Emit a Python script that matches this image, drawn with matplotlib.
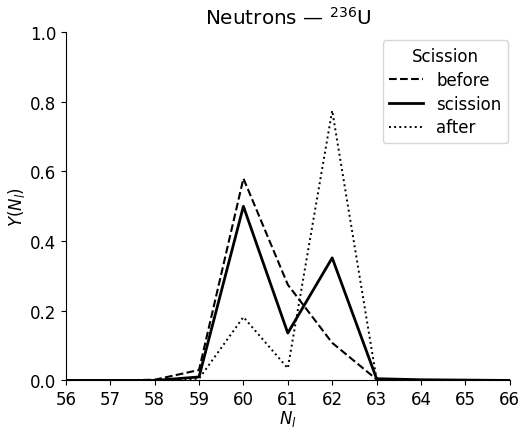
import matplotlib
matplotlib.use("Agg")
from matplotlib import pyplot as plt

# neutron number of the light fragment
n_light = [56, 57, 58, 59, 60, 61, 62, 63, 64, 65, 66]

# yields at each stage
y_before = [0.0, 0.0, 0.002, 0.03, 0.58, 0.275, 0.108, 0.003, 0.001, 0.0, 0.0]
y_scission = [0.0, 0.0, 0.0, 0.01, 0.50, 0.136, 0.352, 0.005, 0.002, 0.001, 0.0]
y_after = [0.0, 0.0, 0.0, 0.005, 0.182, 0.035, 0.775, 0.003, 0.0, 0.0, 0.0]

plt.rcParams['font.size'] = 12

fig, ax = plt.subplots(figsize=(5.31, 4.31), dpi=100)
fig.subplots_adjust(left=0.124, right=0.960, bottom=0.115, top=0.923)

ax.plot(n_light, y_before, color='black', linestyle='--', linewidth=1.5, label='before')
ax.plot(n_light, y_scission, color='black', linestyle='-', linewidth=2, label='scission')
ax.plot(n_light, y_after, color='black', linestyle=':', linewidth=1.4, label='after')

ax.set_xlim(56, 66)
ax.set_ylim(0, 1)
ax.set_xticks(n_light)
ax.spines['top'].set_visible(False)
ax.spines['right'].set_visible(False)

ax.set_xlabel('$N_l$', labelpad=0)
ax.set_ylabel('$Y(N_l)$', labelpad=2)
ax.set_title('Neutrons — $^{236}$U')
ax.legend(title='Scission', loc='upper right', bbox_to_anchor=(0.996, 0.977),
          borderaxespad=0, labelspacing=0.35)

fig.savefig('out.png')
